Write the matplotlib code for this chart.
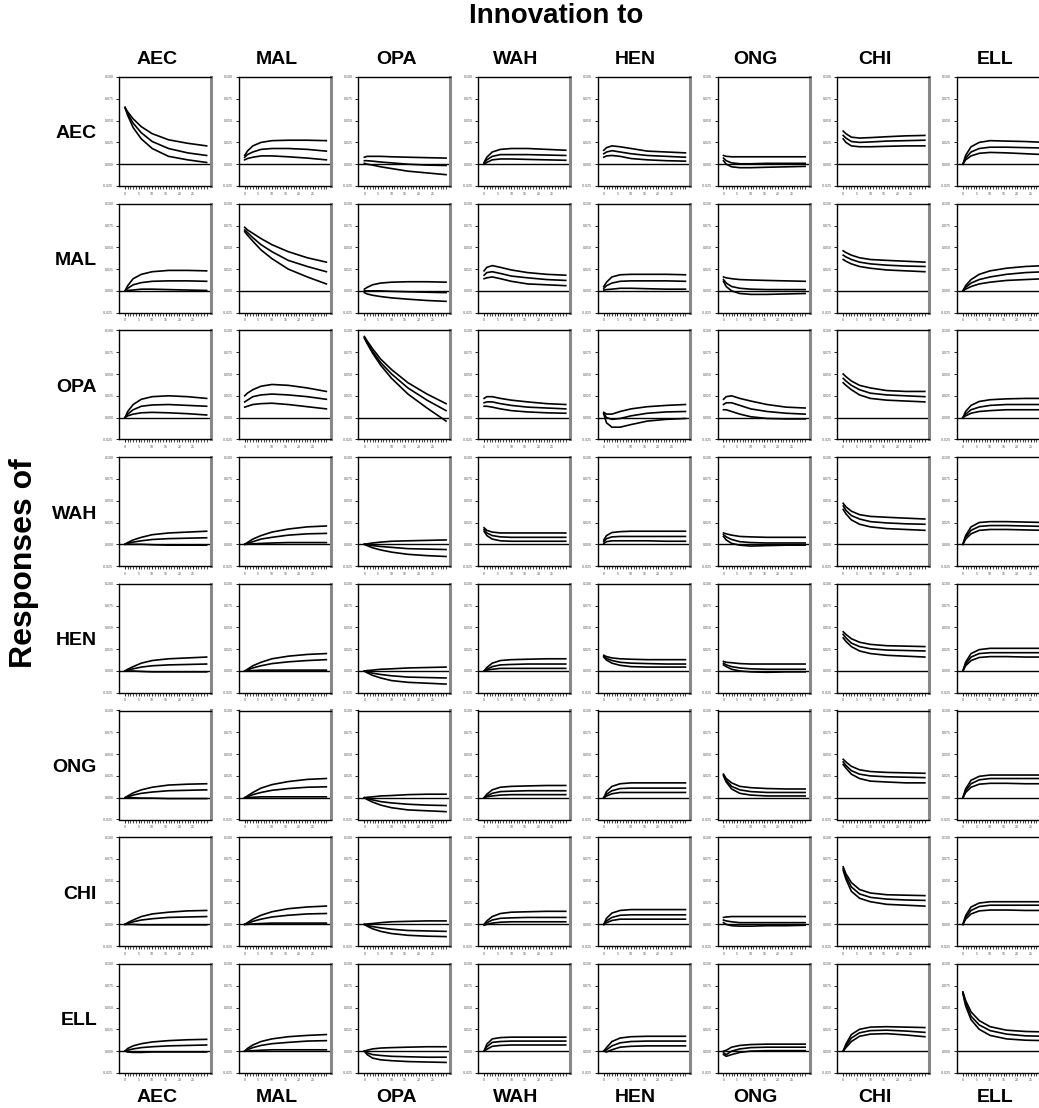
import matplotlib
matplotlib.use("Agg")
import matplotlib.pyplot as plt
import numpy as np

plt.rcParams['font.family'] = ['Liberation Sans', 'DejaVu Sans']

names = ['AEC', 'MAL', 'OPA', 'WAH', 'HEN', 'ONG', 'CHI', 'ELL']
periods = [0, 1, 3, 6, 10, 16, 23, 30]
yticks = [-0.025, 0.000, 0.025, 0.050, 0.075, 0.100]
ytick_labels = ['-0.025', '0.000', '0.025', '0.050', '0.075', '0.100']
xticks = [0, 5, 10, 15, 20, 25]

# responses in thousandths, one entry per innovation: (upper, estimate, lower)
resp_AEC = [
    ([65, 60, 52, 43, 35, 28, 24, 21], [65, 58, 47, 36, 26, 18, 13, 10], [65, 56, 42, 29, 18, 9, 5, 2]),
    ([10, 15, 21, 25, 27, 27.5, 27.5, 27], [8, 11, 14, 17, 18, 18, 17, 15], [5, 6.5, 8, 9.5, 9.5, 8.5, 7, 5]),
    ([8, 9, 9, 9, 8.5, 8, 7.5, 7], [4, 4, 3.5, 2.5, 1.5, 0, -1, -1.5], [1, 0, -1, -3, -5, -8, -10, -12]),
    ([2, 8, 14, 17, 18, 18, 17, 16], [1, 5, 9, 11, 11, 11, 10.5, 10], [0, 2, 5, 6, 6, 5.5, 5, 4.5]),
    ([16, 19, 21, 20, 18, 15, 14, 13], [12, 14, 15.5, 14, 12, 10, 9, 8], [8, 9.5, 10, 9, 6.5, 5, 4, 3.5]),
    ([10, 9, 8.5, 8.5, 8.5, 8.5, 8.5, 8.5], [7, 4, 1.5, 0.5, 0.5, 1, 1, 1], [4, 0, -3, -4, -4, -3.5, -3, -2.5]),
    ([38, 35, 31, 30, 30.5, 31.5, 32.5, 33], [33, 30, 26, 25, 25.5, 26.5, 27, 27.5], [29, 25, 21, 20, 20, 20.5, 21, 21]),
    ([0, 10, 20, 25, 27, 26.5, 26, 25], [0, 7, 14, 18, 19.5, 19.5, 19, 18.5], [0, 5, 9.5, 12.5, 13.5, 13, 12, 11]),
]
resp_MAL = [
    ([0, 6, 14, 19, 22, 23.5, 23.5, 23], [0, 3, 7, 9.5, 11, 11.5, 11.5, 11], [0, 0.5, 1, 2, 2, 1.5, 1, 0.5]),
    ([73, 70, 66, 60, 53, 45, 38, 33], [70, 67, 61, 53, 45, 35, 28, 22], [68, 64, 57, 47, 37, 25, 16, 8]),
    ([2, 4, 7, 9, 10, 10.5, 10.5, 10], [0, 0, 0, 0, -0.5, -1, -1.5, -2], [-2, -3.5, -5, -6.5, -8, -9.5, -11, -12]),
    ([23, 27, 29, 27, 24, 21, 19, 18], [18, 21, 22, 20, 17, 15, 13, 12], [14, 15, 16, 14, 11, 8, 7, 6]),
    ([5, 10, 16, 18.5, 19, 19, 19, 18.5], [3, 6, 9, 11, 11.5, 11.5, 11.5, 11], [1, 1.5, 2, 3, 3, 2.5, 2, 2]),
    ([16, 15, 14, 13, 12.5, 12, 11.5, 11], [13, 9, 5, 3, 2, 1.5, 1.5, 1.5], [11, 5, 0, -3, -4, -4, -3.5, -3]),
    ([46, 44, 41, 38, 36, 35, 34, 33], [41, 39, 36, 33, 31, 29.5, 28.5, 28], [36, 34, 31, 28, 26, 24, 23, 22]),
    ([0, 6, 13, 19, 23, 26, 28, 29], [0, 4, 9, 13, 16, 19, 21, 22], [0, 2, 5, 8, 10, 12, 13, 14]),
]
resp_OPA = [
    ([0, 7, 15, 21, 24, 25, 24, 22], [0, 4, 9, 13, 14.5, 15, 14, 13], [0, 2, 4, 5.5, 6, 5.5, 4.5, 3]),
    ([25, 28, 32, 36, 38, 37, 34, 30], [18, 20, 24, 26, 27, 26, 24, 21], [12, 13, 15, 16, 16.5, 15, 12.5, 10]),
    ([93, 88, 79, 67, 55, 40, 27, 16], [92, 86, 76, 63, 50, 34, 20, 8], [91, 85, 74, 60, 45, 27, 11, -4]),
    ([22, 24, 24, 22, 20, 18, 16, 15], [17, 18, 18, 16, 14, 12, 11, 10], [13, 13, 12, 10, 8, 6.5, 5.5, 5]),
    ([6, 4, 4, 7, 10, 12.5, 14, 15], [5, 0, -2, -1, 2, 5, 6.5, 7], [4, -6, -11, -11, -8, -4, -2, -1]),
    ([21, 24, 25, 22, 19, 15, 12, 11], [15, 17, 17, 14, 10, 7, 5, 4], [9, 9, 7, 4, 1, -1, -1.5, -1.5]),
    ([50, 47, 42, 37, 34, 31, 30, 30], [45, 42, 37, 32, 28, 26, 25, 24], [40, 37, 32, 26, 22, 20, 19, 18]),
    ([0, 7, 14, 18.5, 20.5, 21.5, 22, 22], [0, 4, 9, 12, 14, 15, 15, 15], [0, 2, 5, 7, 8, 9, 9, 9]),
]
resp_WAH = [
    ([0, 2, 5, 8, 11, 13, 14, 15], [0, 1, 2.5, 4, 5.5, 6.5, 7, 7.5], [0, 0, 0, 0, -0.5, -1, -1, -1]),
    ([0, 2, 6, 10, 14, 17.5, 20, 21], [0, 1, 3, 6, 8, 10.5, 12, 12.5], [0, 0, 0.5, 1, 1.5, 2, 2, 2]),
    ([0, 0.5, 1.5, 2.5, 3.5, 4, 4.5, 5], [0, -0.5, -1.5, -2.5, -3.5, -5, -5.5, -6], [0, -1.5, -4, -6.5, -9, -11.5, -13, -14]),
    ([19, 16, 14, 13, 13, 13, 13, 13], [17, 13, 10, 8.5, 8, 8, 8, 8], [15, 10, 6, 4, 3.5, 3.5, 3.5, 3.5]),
    ([5, 10, 13.5, 14.5, 15, 15, 15, 15], [3, 6.5, 8.5, 9, 9, 9, 9, 9], [1, 3, 4, 4, 4, 4, 3.5, 3.5]),
    ([13, 12, 10.5, 9, 8.5, 8, 8, 8], [11, 8.5, 5.5, 3, 2, 1.5, 1.5, 1.5], [9, 5, 1, -1, -2, -1.5, -1, -1]),
    ([47, 43, 38, 34, 32, 31, 30, 29], [44, 39, 33, 29, 26, 24.5, 23.5, 23], [40, 35, 28, 23, 20, 18, 17, 16]),
    ([0, 10, 20, 25, 26, 26, 25.5, 25], [0, 8, 16, 20.5, 21.5, 21.5, 21, 20.5], [0, 6, 12, 16, 17, 17, 16.5, 16]),
]
resp_HEN = [
    ([0, 2, 5, 9, 12, 14, 15, 16], [0, 1, 2.5, 4.5, 6, 7, 7.5, 8], [0, 0, 0, -0.5, -1, -1, -1, -1]),
    ([0, 2, 6, 10, 14, 17, 19, 20], [0, 1, 3.5, 6, 8.5, 10.5, 12, 13], [0, 0, 0.5, 1, 1, 1, 1, 1]),
    ([0, 0.5, 1, 2, 2.5, 3.5, 4, 4.5], [0, -1, -2.5, -4, -5.5, -7, -7.5, -8], [0, -2, -5, -8, -11, -13, -14, -15]),
    ([0, 4, 9, 12, 13, 13.5, 14, 14], [0, 2, 5, 7, 7.5, 8, 8, 8], [0, 1, 2, 3, 3, 3, 3, 3]),
    ([18, 16.5, 15, 14, 13.5, 13, 13, 13], [17, 14.5, 12, 10, 9, 8.5, 8, 8], [16, 12.5, 9, 6.5, 5, 4.5, 4.5, 4.5]),
    ([11, 10, 9.5, 8.5, 8, 8, 8, 8], [9, 7, 5, 3.5, 2.5, 2, 2, 2], [7, 5, 2, 0, -1, -1.5, -1, -1]),
    ([45, 42, 37, 33, 30.5, 29, 28.5, 28], [42, 38, 32, 28, 25.5, 24, 23.5, 23], [38, 34, 28, 23, 20, 18, 17, 16]),
    ([0, 10, 20, 24.5, 26, 26, 26, 26], [0, 8, 16, 20, 21, 21, 21, 21], [0, 6, 12, 15.5, 16.5, 16.5, 16, 16]),
]
resp_ONG = [
    ([0, 2, 5.5, 9, 12, 14.5, 15.5, 16], [0, 1, 3, 5, 6.5, 8, 8.5, 9], [0, 0, 0, -0.5, -0.5, -1, -1, -1]),
    ([0, 2, 6, 11, 15, 18.5, 21, 22], [0, 1, 3.5, 6, 8.5, 10.5, 12, 12.5], [0, 0, 0.5, 1, 1, 1, 1, 1]),
    ([0, 0.5, 1, 2, 2.5, 3.5, 4, 4], [0, -1, -2.5, -4.5, -6, -7.5, -8.5, -9], [0, -2, -5, -8.5, -11.5, -14, -15, -16]),
    ([0, 4, 9, 12, 13, 13.5, 14, 14], [0, 2, 5, 7, 7.5, 8, 8, 8], [0, 1, 2, 3, 3.5, 3.5, 3.5, 3.5]),
    ([0, 7, 13, 16, 17, 17, 17, 17], [0, 4, 8, 10.5, 11, 11, 11, 11], [0, 2, 4.5, 6, 6, 6, 6, 6]),
    ([27, 22, 17, 13, 11.5, 10.5, 10, 10], [26, 20, 13, 9, 7, 6, 6, 6], [25, 18, 10, 5, 3, 2, 2, 2]),
    ([44, 41, 36, 32, 30, 29, 28.5, 28], [41, 37, 31, 27, 25, 24, 23.5, 23], [38, 34, 27, 22, 19, 18, 17, 17]),
    ([0, 10, 20, 24.5, 26, 26, 26, 26], [0, 8, 16, 20.5, 22, 22, 22, 22], [0, 6, 12, 15.5, 16.5, 16.5, 16, 16]),
]
resp_CHI = [
    ([0, 2, 5, 9, 12, 14, 15.5, 16], [0, 1, 3, 5, 6.5, 8, 8.5, 9], [0, 0, 0, -0.5, -0.5, -0.5, -0.5, -0.5]),
    ([0, 2, 6, 10.5, 14.5, 18, 20, 21], [0, 1, 3.5, 6, 8.5, 10.5, 12, 12.5], [0, 0, 0.5, 1, 1.5, 1.5, 1.5, 1.5]),
    ([0, 0.5, 1, 2, 3, 3.5, 4, 4], [0, -1, -2.5, -4, -5.5, -7, -7.5, -8], [0, -2, -5, -8, -10.5, -12.5, -13.5, -14]),
    ([0, 4, 9, 12.5, 14, 14.5, 15, 15], [0, 2, 5, 7, 7.5, 8, 8, 8], [-1, 0, 1.5, 2.5, 3, 3, 3, 3]),
    ([0, 7, 13, 16, 17, 17, 17, 17], [0, 4, 8, 10.5, 11, 11, 11, 11], [0, 2, 4.5, 6, 6, 6, 6, 6]),
    ([8, 8.5, 9, 9, 9, 9, 9, 9], [5, 4, 3, 2, 2, 2, 2, 2], [2, 0, -1.5, -2, -2, -1.5, -1.5, -1]),
    ([66, 58, 48, 40, 36, 34, 33.5, 33], [64, 55, 43, 35, 31, 29, 28, 27.5], [62, 52, 38, 30, 26, 23, 22, 21]),
    ([0, 10, 20, 24.5, 26, 26, 26, 26], [0, 8, 16, 20.5, 22, 22, 22, 22], [0, 6, 12, 15.5, 16.5, 16.5, 16, 16]),
]
resp_ELL = [
    ([0, 3, 6, 8.5, 10.5, 12, 13, 13.5], [0, 1, 2.5, 4, 5, 6, 6.5, 7], [0, -1, -1.5, -1.5, -1, -1, -1, -1]),
    ([0, 3, 7, 11, 14, 16.5, 18, 19], [0, 1.5, 4, 6.5, 8.5, 10, 11.5, 12], [0, 0, 0.5, 1, 1.5, 1.5, 1.5, 1.5]),
    ([0, 1, 2.5, 3.5, 4, 4.5, 5, 5], [0, -2, -4, -5, -6, -6.5, -7, -7], [0, -4, -8, -10, -11, -12, -12.5, -13]),
    ([0, 8, 14, 15.5, 16, 16, 16, 16], [0, 5, 10, 11, 11.5, 11.5, 11.5, 11.5], [0, 2, 5.5, 6.5, 7, 7, 7, 7]),
    ([0, 4, 11, 15, 16.5, 17, 17, 17], [0, 1.5, 6, 9.5, 11, 11.5, 11.5, 11.5], [0, -1, 1.5, 4.5, 5.5, 6, 6, 6]),
    ([0, 1, 4.5, 6.5, 7.5, 8, 8, 8], [-2, -4, 0, 2.5, 4, 4.5, 4.5, 4.5], [-4, -6, -4, -1.5, 0, 0.5, 0.5, 0.5]),
    ([0, 8, 19, 25, 27.5, 28, 27.5, 27], [0, 6, 15, 21, 23.5, 24, 23, 21.5], [0, 4, 11, 17, 19.5, 20, 18.5, 16.5]),
    ([68, 58, 45, 35, 28, 24, 22.5, 22], [67, 55, 40, 30, 23.5, 19.5, 17.5, 17], [66, 52, 36, 25, 18, 14, 12.5, 12]),
]
responses = [resp_AEC, resp_MAL, resp_OPA, resp_WAH, resp_HEN, resp_ONG, resp_CHI, resp_ELL]

W, H = 1039, 1108
fig = plt.figure(figsize=(W / 100, H / 100), dpi=100)

# panel geometry in pixels
x0, dx, pw = 119, 119.7, 92
y0, dy, ph = 77, 126.7, 109

for r in range(8):
    for c in range(8):
        left = x0 + c * dx
        top = y0 + r * dy
        ax = fig.add_axes([left / W, 1 - (top + ph) / H, pw / W, ph / H])
        for series in responses[r][c]:
            ax.plot(periods, np.array(series) / 1000, color='black', lw=1.2)
        ax.axhline(0, color='black', lw=1.0)
        ax.set_xlim(-2.2, 31.6)
        ax.set_ylim(-0.025, 0.100)
        ax.set_yticks(yticks)
        ax.set_yticklabels(ytick_labels)
        ax.set_xticks(xticks)
        ax.set_xticks(range(0, 31), minor=True)
        ax.tick_params(axis='both', which='major', length=2.5, width=0.6,
                       labelsize=2.5, labelcolor='#555555', pad=1.5)
        ax.tick_params(axis='x', which='minor', length=1.8, width=0.5)
        for side in ['left', 'top', 'bottom']:
            ax.spines[side].set_linewidth(1.0)
            ax.spines[side].set_color('black')
        ax.spines['right'].set_linewidth(2.2)
        ax.spines['right'].set_color('#888888')

        if r == 0:
            fig.text((left + 38) / W, 1 - 60 / H, names[c], ha='center', va='center',
                     fontsize=14, fontweight='bold')
        if r == 7:
            fig.text((left + 38) / W, 1 - 1097.5 / H, names[c], ha='center', va='center',
                     fontsize=14, fontweight='bold')
    fig.text(97 / W, 1 - (y0 + r * dy + 57) / H, names[r], ha='right', va='center',
             fontsize=14, fontweight='bold')

fig.text(556 / W, 1 - 16 / H, 'Innovation to', ha='center', va='center',
         fontsize=20, fontweight='bold')
fig.text(24 / W, 1 - 563 / H, 'Responses of', ha='center', va='center',
         fontsize=23, fontweight='bold', rotation=90)

fig.savefig('out.png', dpi=100)
